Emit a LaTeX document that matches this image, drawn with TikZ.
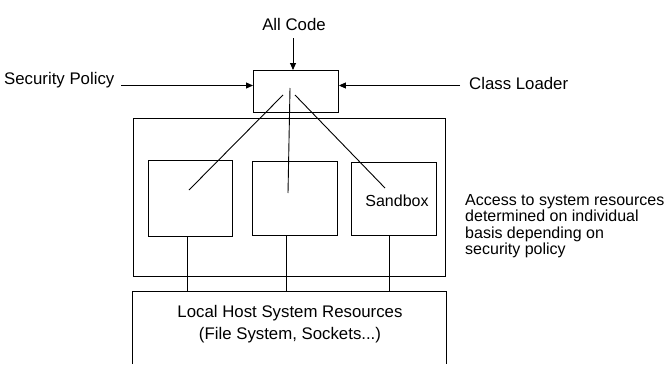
\documentclass[tikz,border=0pt]{standalone}
\usepackage{fontspec}
\setmainfont{Liberation Sans}
\usetikzlibrary{arrows.meta}
\begin{document}
\begin{tikzpicture}[x=1pt,y=-1pt,
  every node/.style={font=\fontsize{16.8}{22}\selectfont, inner sep=0pt},
  notefont/.style={font=\fontsize{16}{16.5}\selectfont},
  box/.style={draw, line width=0.9pt, rectangle, anchor=north west},
  ln/.style={line width=0.9pt},
  arr/.style={line width=0.9pt, -{Triangle[length=7pt,width=6pt]}}]
\useasboundingbox (0,0) rectangle (668,364);
% labels
\node (allcode) at (294,24) {All Code};
\node[anchor=west] (secpol) at (4,80) {Security Policy};
\node[anchor=west] (classl) at (469,83) {Class Loader};
% top box
\node[box, minimum width=85pt, minimum height=42pt] (jvm) at (253,70) {};
% big container
\node[box, minimum width=312pt, minimum height=158pt] (cont) at (133,118) {};
% small boxes
\node[box, minimum width=84pt, minimum height=76pt] (b1) at (148,160) {};
\node[box, minimum width=85pt, minimum height=74pt] (b2) at (252,161) {};
\node[box, minimum width=85pt, minimum height=73pt] (b3) at (351,162) {};
\node[notefont] (sandbox) at (397,201) {Sandbox};
% resources box (open at bottom)
\coordinate (rbl) at (132,364);
\coordinate (rtl) at (132,291);
\coordinate (rtr) at (446,291);
\coordinate (rbr) at (446,364);
\draw[ln] (rbl) -- (rtl) -- (rtr) -- (rbr);
\node[align=center] (res) at (290,324) {Local Host System Resources\\(File System, Sockets...)};
% side note
\node[notefont, anchor=north west, align=left] (note) at (465,194) {Access to system resources\\determined on individual\\basis depending on\\security policy};
% arrows into top box
\coordinate (acs) at (293,38);
\coordinate (spe) at (121,85.5);
\coordinate (cle) at (460,85.5);
\draw[arr] (acs) -- (jvm.north -| acs);
\draw[arr] (spe) -- (jvm.west |- spe);
\draw[arr] (cle) -- (jvm.east |- cle);
% fan lines
\coordinate (f1) at (283,95);
\coordinate (f2) at (290,88);
\coordinate (f3) at (295,95);
\coordinate (e1) at (189,190);
\coordinate (e2) at (288,193);
\coordinate (e3) at (385,188);
\draw[ln] (f1) -- (e1);
\draw[ln] (f2) -- (e2);
\draw[ln] (f3) -- (e3);
% down links
\draw[ln] (b1.south -| 187,0) -- (rtl -| 187,0);
\draw[ln] (b2.south -| 286,0) -- (rtl -| 286,0);
\draw[ln] (b3.south -| 389,0) -- (rtl -| 389,0);
\end{tikzpicture}
\end{document}
